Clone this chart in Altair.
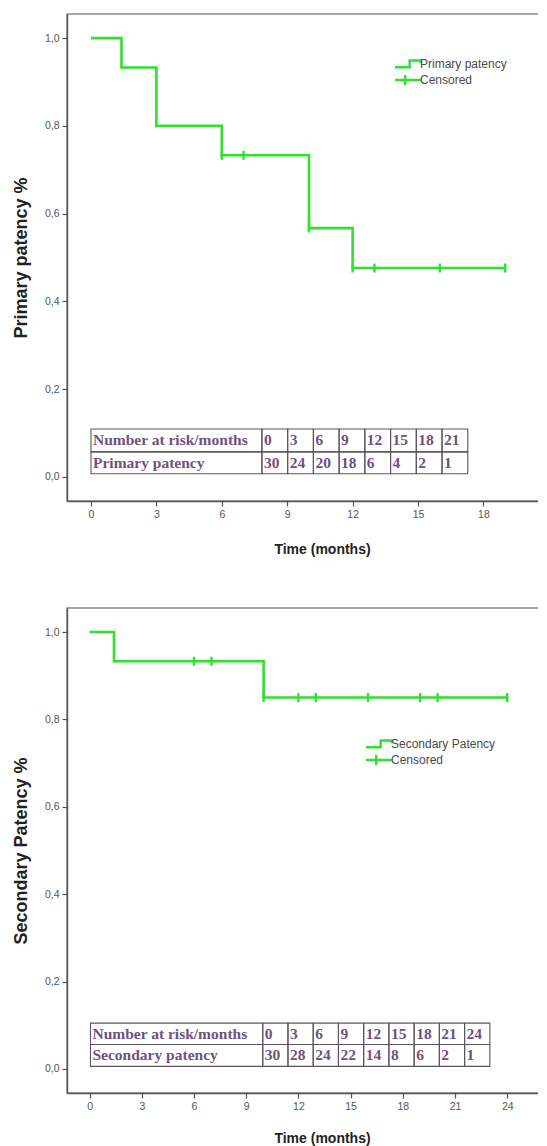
import altair as alt
import pandas as pd

# ---------------- data ----------------
# Primary patency Kaplan-Meier curve
p_time = [0, 1.4, 3, 6, 10, 12, 19]
p_surv = [1.0, 0.933, 0.8, 0.733, 0.567, 0.476, 0.476]
p_cens_time = [6, 7, 10, 12, 13, 16, 19]
p_cens_surv = [0.733, 0.733, 0.567, 0.476, 0.476, 0.476, 0.476]
p_months = [0, 3, 6, 9, 12, 15, 18, 21]
p_at_risk = [30, 24, 20, 18, 6, 4, 2, 1]

# Secondary patency Kaplan-Meier curve
s_time = [0, 1.4, 10, 24]
s_surv = [1.0, 0.933, 0.85, 0.85]
s_cens_time = [6, 7, 10, 12, 13, 16, 19, 20, 24]
s_cens_surv = [0.933, 0.933, 0.85, 0.85, 0.85, 0.85, 0.85, 0.85, 0.85]
s_months = [0, 3, 6, 9, 12, 15, 18, 21, 24]
s_at_risk = [30, 28, 24, 22, 14, 8, 6, 2, 1]

y_ticks = [0.0, 0.2, 0.4, 0.6, 0.8, 1.0]

# ---------------- styles ----------------
GREEN = "#2fe02f"
STEP_PATH = "M-2.36,0.6H0.3V-0.65H2.3V-0.15"
CROSS_PATH = "M-2.36,0H2.36M-0.5,-0.9V0.9"
TICK_PATH = "M0,-1V1"
TXT = "#6e5280"
SANS = "Liberation Sans"


def panel(times, surv, ctimes, csurv, months, at_risk, series_label,
          row_label, ytitle, xdomain, xvalues, width, height,
          tbl_x0, label_w, cell_w, row_edges, legend_x, legend_y,
          x_title_pad):
    curve = pd.DataFrame({"t": times, "s": surv})
    cens = pd.DataFrame({"t": ctimes, "s": csurv,
                         "kind": ["Censored"] * len(ctimes)})

    # number-at-risk table cells (in data units of the panel)
    rows = [["Number at risk/months"] + [str(m) for m in months],
            [row_label] + [str(n) for n in at_risk]]
    recs = []
    for r, texts in enumerate(rows):
        top, bot = row_edges[r], row_edges[r + 1]
        for c, txt in enumerate(texts):
            if c == 0:
                a, b = tbl_x0, tbl_x0 + label_w
            else:
                a = tbl_x0 + label_w + (c - 1) * cell_w
                b = a + cell_w
            recs.append({"t": a, "t2": b, "s": (top + bot) / 2,
                         "s_top": top, "s_bot": bot, "txt": txt})
    cells = pd.DataFrame(recs)

    xs = alt.Scale(domain=xdomain, nice=False, zero=False)
    ys = alt.Scale(domain=[-0.055, 1.055], nice=False, zero=False)
    xax = alt.Axis(values=xvalues, title="Time (months)", titlePadding=x_title_pad,
                   grid=False)
    yax = alt.Axis(values=y_ticks, title=ytitle, grid=False,
                   labelExpr="replace(format(datum.value, '.1f'), '.', ',')")
    X = alt.X("t:Q", scale=xs, axis=xax)
    Y = alt.Y("s:Q", scale=ys, axis=yax)

    line = alt.Chart(curve).mark_line(
        interpolate="step-after", color=GREEN, strokeWidth=2.6
    ).encode(x=X, y=Y)

    # censor ticks on the curve
    ticks = alt.Chart(cens).mark_point(
        shape=TICK_PATH, filled=False, color=GREEN, strokeWidth=2.4,
        size=81, opacity=1
    ).encode(x=X, y=Y)

    # legend (symbols only shown in the legend)
    leg = alt.Chart(cens).mark_point(
        filled=False, color=GREEN, strokeWidth=2.4, size=10, opacity=0
    ).encode(
        x=X, y=Y,
        shape=alt.Shape(
            "kind:N",
            scale=alt.Scale(domain=[series_label, "Censored"],
                            range=[STEP_PATH, CROSS_PATH]),
            legend=alt.Legend(title=None, orient="none", legendX=legend_x,
                              legendY=legend_y, symbolSize=121,
                              symbolOpacity=1,
                              symbolStrokeWidth=2.4, symbolStrokeColor=GREEN,
                              labelFontSize=12, labelColor="#4a4a4a",
                              labelFont=SANS, labelOffset=5, rowPadding=-10),
        ),
    )

    rect = alt.Chart(cells).mark_rect(
        fillOpacity=0, stroke="#5a5560", strokeWidth=1.1
    ).encode(x=X, x2="t2:Q",
             y=alt.Y("s_top:Q", scale=ys, axis=yax), y2="s_bot:Q")

    text = alt.Chart(cells).mark_text(
        align="left", baseline="middle", dx=2, font="Liberation Serif",
        fontWeight="bold", fontSize=15.5, color=TXT
    ).encode(x=X, y=Y, text="txt:N")

    return alt.layer(rect, text, line, ticks, leg).properties(
        width=width, height=height)


top = panel(p_time, p_surv, p_cens_time, p_cens_surv, p_months, p_at_risk,
            "Primary patency", "Primary patency", "Primary patency %",
            [-1.1, 22.29], [0, 3, 6, 9, 12, 15, 18, 21], 510, 487,
            0.0, 7.84, 1.18, [0.109, 0.057, 0.007], 334, 43, 23)

bottom = panel(s_time, s_surv, s_cens_time, s_cens_surv, s_months, s_at_risk,
               "Secondary Patency", "Secondary patency", "Secondary Patency %",
               [-1.3, 28.01], [0, 3, 6, 9, 12, 15, 18, 21, 24], 510, 485,
               0.05, 9.9, 1.45, [0.105, 0.056, 0.006], 305, 129, 20)

chart = alt.vconcat(top, bottom, spacing=49).resolve_scale(
    shape="independent"
).properties(
    padding={"left": 3, "top": 5, "right": -40, "bottom": 0}
).configure_view(
    stroke="#8a8a8a", strokeWidth=1.5
).configure_axis(
    domainColor="#555", domainWidth=1.4, tickColor="#555", tickSize=5,
    tickWidth=1.2, labelFont=SANS, labelFontSize=10.5, labelColor="#555",
    labelPadding=3, titleFont=SANS, titleFontSize=14, titleFontWeight="bold",
    titleColor="#222"
).configure_axisY(titlePadding=14, titleFontSize=18)

chart.save("out.html", embed_options={"renderer": "svg", "actions": False})
